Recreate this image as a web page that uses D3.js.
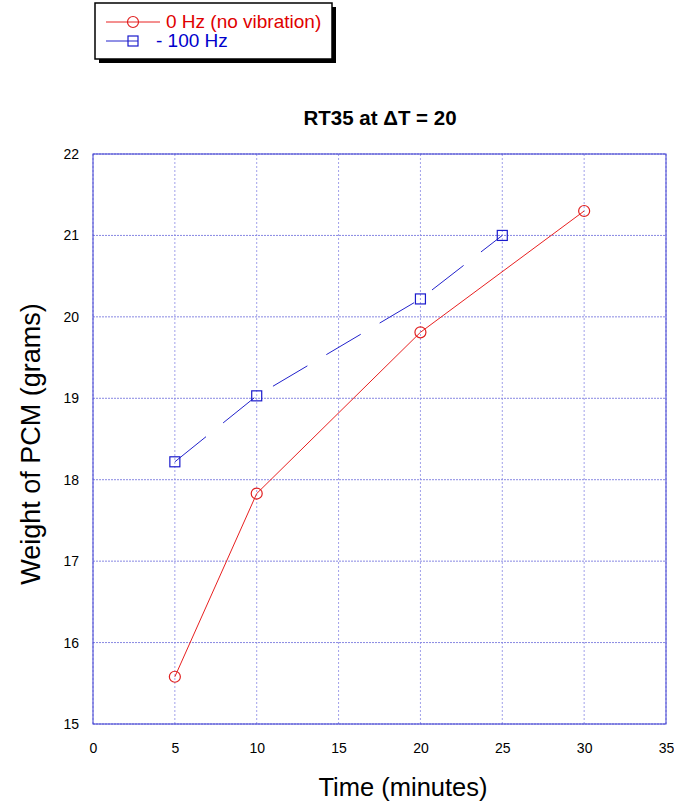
<!DOCTYPE html>
<html><head><meta charset="utf-8">
<script src="https://cdn.jsdelivr.net/npm/d3@7"></script>
<style>body{margin:0;background:#fff;} svg{display:block;font-family:"Liberation Sans",Arial,sans-serif;}</style>
</head><body>
<script>
const xTicks = [0,5,10,15,20,25,30,35];
const yTicks = [15,16,17,18,19,20,21,22];
const seriesNames = ["0 Hz (no vibration)", "- 100 Hz"];
const time0 = [5,10,20,30];
const weight0 = [15.58,17.83,19.81,21.30];
const time100 = [5,10,20,25];
const weight100 = [18.22,19.03,20.22,21.00];

const W=674,H=802;
const svg=d3.select("body").append("svg").attr("width",W).attr("height",H);
const x=d3.scaleLinear().domain([0,35]).range([93,666]);
const y=d3.scaleLinear().domain([15,22]).range([724,154]);

// grid
const g=svg.append("g");
g.selectAll(".gx").data(xTicks).enter().append("line")
 .attr("x1",d=>x(d)).attr("x2",d=>x(d)).attr("y1",y(15)).attr("y2",y(22))
 .attr("stroke","#a0a0ea").attr("stroke-width",1).attr("stroke-dasharray","2,2");
g.selectAll(".gy").data(yTicks).enter().append("line")
 .attr("y1",d=>y(d)).attr("y2",d=>y(d)).attr("x1",x(0)).attr("x2",x(35))
 .attr("stroke","#8888e2").attr("stroke-width",1).attr("stroke-dasharray","2,1");
// frame
svg.append("rect").attr("x",x(0)).attr("y",y(22)).attr("width",x(35)-x(0)).attr("height",y(15)-y(22))
 .attr("fill","none").attr("stroke","#3a3ad0").attr("stroke-width",1);

// axes labels via d3 axis
const xa=svg.append("g").attr("transform",`translate(0,${y(15)})`)
 .call(d3.axisBottom(x).tickValues(xTicks).tickFormat(d3.format("d")).tickSize(0).tickPadding(19));
xa.select(".domain").remove();
xa.selectAll("text").attr("font-size",14).attr("fill","#000").attr("font-family","Liberation Sans, Arial, sans-serif");
const ya=svg.append("g").attr("transform",`translate(${x(0)},0)`)
 .call(d3.axisLeft(y).tickValues(yTicks).tickFormat(d3.format("d")).tickSize(0).tickPadding(14));
ya.select(".domain").remove();
ya.selectAll("text").attr("font-size",14).attr("fill","#000").attr("font-family","Liberation Sans, Arial, sans-serif");

// lines
const d0=time0.map((t,i)=>[t,weight0[i]]);
const d1=time100.map((t,i)=>[t,weight100[i]]);
const line=d3.line().x(d=>x(d[0])).y(d=>y(d[1]));
svg.append("path").attr("d",line(d1)).attr("fill","none").attr("stroke","#2222cc").attr("stroke-width",1).attr("stroke-dasharray","40,22");
svg.append("path").attr("d",line(d0)).attr("fill","none").attr("stroke","#e82020").attr("stroke-width",1);
svg.selectAll(".m1").data(d1).enter().append("rect")
 .attr("x",d=>x(d[0])-5).attr("y",d=>y(d[1])-5).attr("width",10).attr("height",10)
 .attr("fill","none").attr("stroke","#1a1acc").attr("stroke-width",1.2);
svg.selectAll(".m0").data(d0).enter().append("circle")
 .attr("cx",d=>x(d[0])).attr("cy",d=>y(d[1])).attr("r",5.5)
 .attr("fill","none").attr("stroke","#e02020").attr("stroke-width",1.2);

// title and axis titles
svg.append("text").attr("x",380).attr("y",125).attr("text-anchor","middle")
 .attr("font-size",20.5).attr("font-weight","bold").text("RT35 at ΔT = 20");
svg.append("text").attr("x",403).attr("y",796).attr("text-anchor","middle")
 .attr("font-size",25.5).text("Time (minutes)");
svg.append("text").attr("transform","translate(40,444) rotate(-90)").attr("text-anchor","middle")
 .attr("font-size",27).text("Weight of PCM (grams)");

// legend
svg.append("rect").attr("x",99).attr("y",7).attr("width",237).attr("height",56).attr("fill","#000");
svg.append("rect").attr("x",95).attr("y",3).attr("width",237).attr("height",56).attr("fill","#fff").attr("stroke","#000").attr("stroke-width",1.5);
svg.append("line").attr("x1",106).attr("x2",160).attr("y1",22).attr("y2",22).attr("stroke","#e82020");
svg.append("circle").attr("cx",133).attr("cy",22).attr("r",5.5).attr("fill","none").attr("stroke","#e02020").attr("stroke-width",1.2);
svg.append("text").attr("x",166).attr("y",28).attr("font-size",19).attr("fill","#e00000").text(seriesNames[0]);
svg.append("line").attr("x1",106).attr("x2",138).attr("y1",41).attr("y2",41).attr("stroke","#2222cc");
svg.append("rect").attr("x",128).attr("y",36).attr("width",10).attr("height",10).attr("fill","none").attr("stroke","#1a1acc").attr("stroke-width",1.2);
svg.append("text").attr("x",156).attr("y",47).attr("font-size",19).attr("fill","#0000cc").text(seriesNames[1]);
</script>
</body></html>
